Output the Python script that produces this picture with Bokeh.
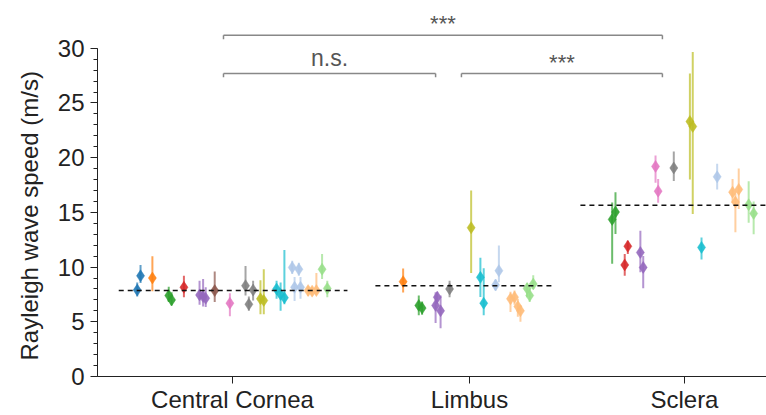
from bokeh.plotting import figure
from bokeh.models import FixedTicker, SingleIntervalTicker, ColumnDataSource
from bokeh.embed import file_html
from bokeh.resources import INLINE
from bokeh.core.properties import value

# ---------------- data ----------------
categories = ["Central Cornea", "Limbus", "Sclera"]
category_x = [1.0, 2.0, 2.907]
y_ticks = [0, 5, 10, 15, 20, 25, 30]

# Central Cornea
cc_colors = ["blue", "blue", "orange", "green", "green", "red", "purple", "purple", "purple",
             "brown", "pink", "gray", "gray", "gray", "olive", "olive", "cyan", "cyan", "cyan",
             "lightblue", "lightblue", "lightblue", "lightblue", "lightorange", "lightorange",
             "lightorange", "lightgreen", "lightgreen"]
cc_offset = [-0.402, -0.388, -0.338, -0.269, -0.257, -0.205, -0.139, -0.124, -0.113,
             -0.075, -0.011, 0.055, 0.069, 0.087, 0.118, 0.132, 0.186, 0.203, 0.219,
             0.252, 0.280, 0.262, 0.287, 0.319, 0.336, 0.354, 0.378, 0.400]
cc_speed = [7.9, 9.2, 9.0, 7.4, 7.0, 8.15, 7.45, 7.3, 7.15,
            7.85, 6.7, 8.3, 6.6, 7.9, 7.1, 6.95, 8.0, 7.5, 7.2,
            9.97, 9.8, 8.15, 8.15, 7.85, 7.8, 7.85, 9.8, 8.05]
cc_err_up = [0.7, 1.0, 2.0, 0.8, 0.7, 1.05, 1.3, 1.6, 1.0,
             1.75, 0.9, 1.8, 0.7, 0.85, 1.7, 2.85, 0.75, 1.1, 4.35,
             0.6, 0.6, 0.95, 0.95, 0.4, 0.4, 1.6, 1.4, 0.7]
cc_err_down = [0.6, 0.65, 1.2, 0.6, 0.5, 0.9, 0.9, 0.9, 0.8,
               1.05, 1.2, 0.9, 0.6, 0.96, 1.4, 1.25, 0.9, 1.5, 0.6,
               0.6, 0.6, 1.25, 1.05, 0.5, 0.4, 0.4, 0.9, 0.8]
cc_mean = 7.85

# Limbus
lb_colors = ["orange", "green", "green", "purple", "purple", "purple", "gray", "olive",
             "cyan", "cyan", "lightblue", "lightblue", "lightorange", "lightorange",
             "lightorange", "lightorange", "lightgreen", "lightgreen", "lightgreen"]
lb_offset = [-0.280, -0.214, -0.200, -0.143, -0.136, -0.122, -0.084, 0.007,
             0.046, 0.060, 0.110, 0.124, 0.173, 0.190, 0.204, 0.215, 0.243, 0.254, 0.269]
lb_speed = [8.67, 6.5, 6.25, 6.5, 7.25, 6.0, 8.0, 13.6,
            9.06, 6.7, 8.36, 9.67, 7.1, 7.25, 6.4, 6.0, 8.05, 7.4, 8.45]
lb_err_up = [1.2, 0.9, 0.6, 1.2, 0.5, 1.4, 0.75, 3.4,
             1.8, 3.2, 0.5, 2.3, 0.65, 0.6, 0.7, 0.5, 0.5, 0.6, 0.8]
lb_err_down = [1.0, 0.9, 0.6, 1.6, 0.6, 1.6, 0.75, 4.15,
               1.8, 1.1, 0.5, 1.05, 1.2, 0.7, 0.95, 1.0, 0.8, 0.6, 0.45]
lb_mean = 8.3

# Sclera
sc_colors = ["green", "green", "red", "red", "purple", "purple", "pink", "pink", "gray",
             "olive", "olive", "cyan", "lightblue", "lightorange", "lightorange",
             "lightorange", "lightgreen", "lightgreen"]
sc_offset = [-0.305, -0.291, -0.252, -0.239, -0.186, -0.174, -0.122, -0.111, -0.045,
             0.023, 0.035, 0.072, 0.138, 0.203, 0.229, 0.215, 0.271, 0.292]
sc_speed = [14.36, 15.03, 10.2, 11.9, 11.33, 9.97, 19.2, 16.94, 19.06,
            23.3, 22.85, 11.8, 18.25, 16.85, 17.1, 15.94, 15.7, 14.9]
sc_err_up = [1.55, 1.8, 1.0, 0.5, 2.0, 1.05, 1.0, 1.1, 1.5,
             4.4, 6.8, 0.9, 1.2, 1.2, 1.9, 0.8, 2.15, 1.1]
sc_err_down = [4.05, 2.0, 1.0, 0.7, 1.8, 1.9, 1.5, 1.05, 1.2,
               5.3, 8.0, 1.1, 1.15, 1.0, 1.8, 2.75, 1.65, 1.9]
sc_mean = 15.64

# mean-line extents (category units relative to each centre)
mean_left = [-0.48, -0.397, -0.439]
mean_right = [0.485, 0.36, 0.40]

# significance brackets: left x, right x, bar y, label, label y
br_left = [0.962, 0.962, 1.966]
br_right = [2.814, 1.857, 2.814]
br_y = [31.18, 27.7, 27.7]
br_label = ["***", "n.s.", "***"]
br_label_y = [32.25, 29.1, 28.7]
br_tick = 0.36

y_label = "Rayleigh wave speed (m/s)"

# ---------------- styles ----------------
palette = {
    "blue": "#1f77b4", "orange": "#ff7f0e", "green": "#2ca02c", "red": "#d62728",
    "purple": "#9467bd", "brown": "#8c564b", "pink": "#e377c2", "gray": "#7f7f7f",
    "olive": "#bcbd22", "cyan": "#17becf", "lightblue": "#aec7e8",
    "lightorange": "#ffbb78", "lightgreen": "#98df8a",
}
FONT = "Liberation Sans"
X0 = 0.4304
X1 = X0 + 669 / 237.0

p = figure(width=766, height=415, x_range=(X0, X1), y_range=(0, 378 / 11.0),
           output_backend="svg", toolbar_location=None, title=y_label, title_location="left",
           min_border_left=97, min_border_right=0, min_border_top=0, min_border_bottom=37)
p.outline_line_color = None
p.grid.visible = False
p.background_fill_color = "white"

p.title.text_font = FONT
p.title.text_font_size = "24px"
p.title.text_font_style = "normal"
p.title.text_color = "#222222"
p.title.align = "left"
p.title.offset = 16
p.title.standoff = 24

groups = [
    (cc_colors, cc_offset, cc_speed, cc_err_up, cc_err_down, cc_mean),
    (lb_colors, lb_offset, lb_speed, lb_err_up, lb_err_down, lb_mean),
    (sc_colors, sc_offset, sc_speed, sc_err_up, sc_err_down, sc_mean),
]

for gi, (cols, offs, spd, eu, ed, mean) in enumerate(groups):
    cx = category_x[gi]
    xs = [cx + o for o in offs]
    src = ColumnDataSource(dict(
        x=xs, y=spd,
        lo=[s - d for s, d in zip(spd, ed)],
        hi=[s + u for s, u in zip(spd, eu)],
        color=[palette[c] for c in cols],
    ))
    p.segment(x0="x", x1="x", y0="lo", y1="hi", source=src, line_color="color",
              line_width=2, line_alpha=0.7)
    p.scatter(x="x", y="y", source=src, marker="diamond", size=12,
              fill_color="color", line_color="color", fill_alpha=0.9, line_alpha=0.9,
              line_width=0.5)
    p.segment(x0=[cx + mean_left[gi]], x1=[cx + mean_right[gi]], y0=[mean], y1=[mean],
              line_color="#111111", line_width=1.5, line_dash="5 4")

# brackets
bx0, bx1, by0, by1 = [], [], [], []
for l, r, y in zip(br_left, br_right, br_y):
    bx0 += [l, l, r]
    bx1 += [r, l, r]
    by0 += [y, y, y]
    by1 += [y, y - br_tick, y - br_tick]
p.segment(x0=bx0, x1=bx1, y0=by0, y1=by1, line_color="#888888", line_width=1.5)

lbl_x = [(l + r) / 2 for l, r in zip(br_left, br_right)]
for x, y, t in zip(lbl_x, br_label_y, br_label):
    p.text(x=[x], y=[y], text=[t], text_align="center", text_baseline="middle",
           text_font=value(FONT), text_font_size="23px" if t != "***" else "22px",
           text_color="#555555")

# axes
yax = p.yaxis[0]
yax.ticker = SingleIntervalTicker(interval=5, num_minor_ticks=5)
yax.bounds = (0, 30)
yax.major_label_text_font = FONT
yax.major_label_text_font_size = "24px"
yax.major_label_text_color = "#222222"
yax.major_label_standoff = 6
yax.major_tick_in = 0
yax.major_tick_out = 7
yax.minor_tick_in = 0
yax.minor_tick_out = 4
yax.axis_line_color = "#222222"
yax.major_tick_line_color = "#222222"
yax.minor_tick_line_color = "#222222"

xax = p.xaxis[0]
xax.ticker = FixedTicker(ticks=category_x)
xax.major_label_overrides = {cx: name for cx, name in zip(category_x, categories)}
xax.major_label_text_font = FONT
xax.major_label_text_font_size = "24px"
xax.major_label_text_color = "#222222"
xax.major_label_standoff = 2
xax.major_tick_in = 0
xax.major_tick_out = 7
xax.minor_tick_line_color = None
xax.axis_line_color = "#222222"
xax.major_tick_line_color = "#222222"

open("out.html", "w").write(file_html(p, INLINE))
